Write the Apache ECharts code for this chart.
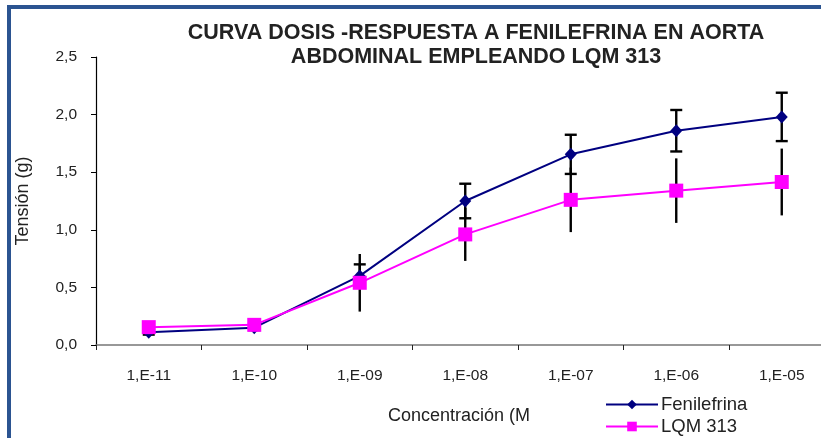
<!DOCTYPE html>
<html>
<head>
<meta charset="utf-8">
<script src="https://cdn.jsdelivr.net/npm/echarts@6/dist/echarts.min.js"></script>
<style>html,body{margin:0;padding:0;background:#fff;}#c{width:821px;height:438px;}</style>
</head>
<body>
<div id="c"></div>
<script>
var categories = ['1,E-11', '1,E-10', '1,E-09', '1,E-08', '1,E-07', '1,E-06', '1,E-05'];
var fenMean = [0.11, 0.15, 0.60, 1.25, 1.655, 1.86, 1.98];
var fenErr  = [0.02, 0.02, 0.10, 0.15, 0.17, 0.18, 0.21];
var lqmMean = [0.155, 0.175, 0.54, 0.96, 1.26, 1.34, 1.415];
var lqmErr  = [0.02, 0.02, 0.25, 0.23, 0.28, 0.28, 0.29];
var yTicks = ['0,0', '0,5', '1,0', '1,5', '2,0', '2,5'];

var FONT = 'Liberation Sans, Arial, sans-serif';
var chart = echarts.init(document.getElementById('c'), null, {renderer: 'canvas'});

function errItem(capW) {
  return function (params, api) {
    var x = api.value(0), m = api.value(1), e = api.value(2);
    var top = api.coord([x, m + e]);
    var bot = api.coord([x, m - e]);
    var style = {stroke: '#000', lineWidth: 2.4};
    var children = [{type: 'line', shape: {x1: top[0], y1: top[1], x2: bot[0], y2: bot[1]}, style: style}];
    if (capW > 0) {
      children.push({type: 'line', shape: {x1: top[0] - capW / 2, y1: top[1], x2: top[0] + capW / 2, y2: top[1]}, style: style});
      children.push({type: 'line', shape: {x1: bot[0] - capW / 2, y1: bot[1], x2: bot[0] + capW / 2, y2: bot[1]}, style: style});
    }
    return {type: 'group', children: children};
  };
}

var fenErrData = categories.map(function (c, i) { return [i, fenMean[i], fenErr[i]]; });
var lqmErrData = categories.map(function (c, i) { return [i, lqmMean[i], lqmErr[i]]; });

chart.setOption({
  animation: false,
  backgroundColor: '#fff',
  title: {
    text: 'CURVA DOSIS -RESPUESTA A FENILEFRINA EN AORTA\nABDOMINAL EMPLEANDO LQM 313',
    left: 476, top: 21, textAlign: 'center', padding: 0,
    textStyle: {fontFamily: FONT, fontSize: 21.5, fontWeight: 'bold', color: '#222', lineHeight: 24}
  },
  legend: {
    orient: 'vertical', left: 605, top: 395, itemGap: 3, padding: 0,
    itemWidth: 52, itemHeight: 12,
    textStyle: {fontFamily: FONT, fontSize: 18.5, color: '#222', padding: [0, 0, 0, -2]},
    data: ['Fenilefrina', 'LQM 313']
  },
  grid: {left: 96, top: 57, width: 738.5, bottom: 93, containLabel: false, outerBoundsMode: 'none'},
  xAxis: {
    type: 'category', data: categories, boundaryGap: true,
    axisLine: {lineStyle: {color: '#777', width: 1.5}},
    axisTick: {show: true, length: 5, lineStyle: {color: '#222', width: 1}},
    axisLabel: {fontFamily: FONT, fontSize: 15.5, color: '#222', margin: 23},
    splitLine: {show: false}
  },
  yAxis: {
    type: 'value', min: 0, max: 2.5, interval: 0.5,
    name: 'Tensión (g)', nameLocation: 'middle', nameGap: 64, nameRotate: 90,
    nameTextStyle: {fontFamily: FONT, fontSize: 18, color: '#222'},
    axisLine: {show: true, lineStyle: {color: '#000', width: 1.2}},
    axisTick: {show: true, length: 5, lineStyle: {color: '#000'}},
    axisLabel: {fontFamily: FONT, fontSize: 15.5, color: '#222', margin: 19,
      formatter: function (v) { return yTicks[Math.round(v / 0.5)]; }},
    splitLine: {show: false}
  },
  graphic: [
    {type: 'rect', shape: {x: 9, y: 7, width: 900, height: 500}, style: {fill: 'none', stroke: '#2b5491', lineWidth: 4}, z: 100},
    {type: 'text', x: 459, y: 416, style: {text: 'Concentración (M', fontFamily: FONT, fontSize: 18, fill: '#222', align: 'center', verticalAlign: 'middle'}}
  ],
  series: [
    {type: 'custom', name: 'errF', renderItem: errItem(12), data: fenErrData, z: 1, silent: true},
    {type: 'custom', name: 'errL', renderItem: errItem(0), data: lqmErrData, z: 1, silent: true},
    {type: 'line', name: 'Fenilefrina', data: fenMean, symbol: 'diamond', symbolSize: [12, 13],
      lineStyle: {color: '#000080', width: 2}, itemStyle: {color: '#000080'}, z: 3},
    {type: 'line', name: 'LQM 313', data: lqmMean, symbol: 'rect', symbolSize: 14,
      lineStyle: {color: '#ff00ff', width: 2}, itemStyle: {color: '#ff00ff'}, z: 4}
  ]
});
</script>
</body>
</html>
